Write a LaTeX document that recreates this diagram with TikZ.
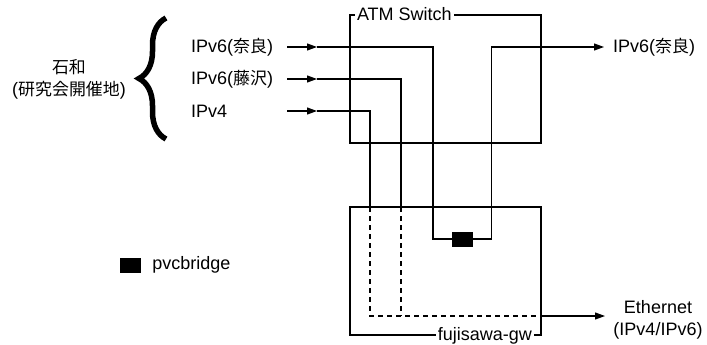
\documentclass[tikz,border=0pt]{standalone}
\usepackage{fontspec}
\setmainfont{Liberation Sans}
\newfontfamily\jpfont[Scale=0.94]{Noto Sans CJK JP}
\newcommand{\jp}[1]{{\jpfont #1}}
\usetikzlibrary{arrows.meta,positioning,decorations.pathreplacing}
\tikzset{
  unitbox/.style={draw, rectangle, line width=2.4pt, minimum width=191pt, minimum height=128pt, inner sep=0pt},
  tag/.style={fill=white, inner sep=2pt, font=\fontsize{18}{22}\selectfont},
  lbl/.style={inner sep=0pt, align=center, font=\fontsize{18}{22}\selectfont},
  wire/.style={line width=1.1pt},
  dwire/.style={line width=1.1pt, dash pattern=on 5pt off 4pt},
  arr/.style={-{Triangle[length=10pt, width=7pt]}, line width=1.1pt},
  bridge/.style={draw, fill=black, minimum width=20pt, minimum height=14pt, inner sep=0pt},
}

\begin{document}
\begin{tikzpicture}[x=1pt, y=-1pt]
\useasboundingbox (0,0) rectangle (707,345);
% the two boxes
\node[unitbox] (sw) at (445.5,79) {};
\node[unitbox] (gw) at (445.5,271) {};
\node[tag, anchor=west] (swl) at ([xshift=6pt]sw.north west) {ATM Switch};
\node[tag, anchor=east] (gwl) at ([xshift=-8pt]gw.south east) {fujisawa-gw};
\node[bridge] (pb) at (462,239) {};
% left side
\node[lbl] (site) at (69,79.5) {\jp{石和}\\(\jp{研究会開催地})};
\draw[decorate, decoration={brace, amplitude=27pt}, line width=5.5pt] (166,139) -- (166,18);
\node[lbl, anchor=west] (inN) at (191,47) {IPv6(\jp{奈良})};
\node[lbl, anchor=west] (inF) at (191,79) {IPv6(\jp{藤沢})};
\node[lbl, anchor=west] (inV) at (191,111) {IPv4};
% right side
\node[lbl, anchor=west] (outN) at (613,47) {IPv6(\jp{奈良})};
\node[lbl] (eth) at (658,320) {Ethernet\\(IPv4/IPv6)};
% legend
\node[bridge] (key) at (130,265) {};
\node[lbl, right=12pt of key] (keyl) {pvcbridge};
% wiring
\coordinate (aN) at (287,47);
\coordinate (mN) at (317,47);
\coordinate (aF) at (287,79);
\coordinate (mF) at (317,79);
\coordinate (aV) at (287,111);
\coordinate (mV) at (317,111);
\coordinate (dF) at (401,207);
\coordinate (dV) at (370,207);
\coordinate (jE) at (541,316);
\draw[arr] (aN) -- (mN);
\draw[arr] (aF) -- (mF);
\draw[arr] (aV) -- (mV);
\draw[wire] (mN) -- ++(116,0) |- (pb.west);
\draw[arr] (pb.east) -- ++(19,0) |- ([xshift=-9pt]outN.west);
\draw[wire] (mF) -| (dF);
\draw[wire] (mV) -| (dV);
\draw[dwire] (dF) -- (dF |- jE);
\draw[dwire] (dV) |- (jE);
\draw[arr] (jE) -- (605,316);
\end{tikzpicture}
\end{document}
